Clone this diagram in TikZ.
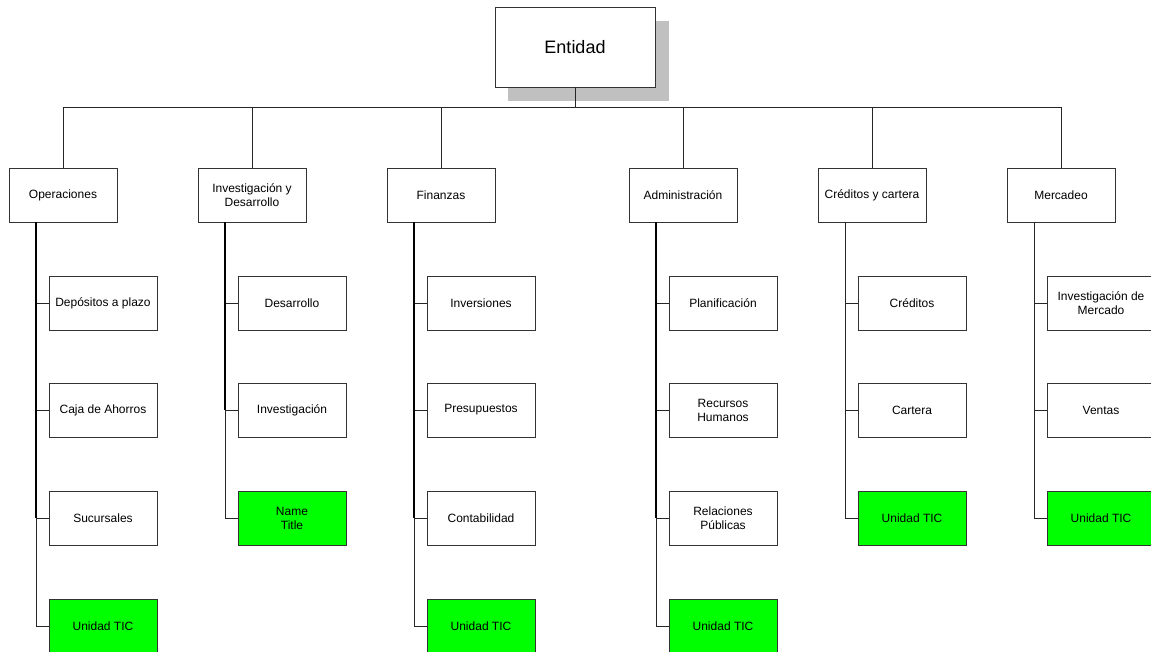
\documentclass[tikz,border=0pt]{standalone}
\usepackage{fontspec}
\setmainfont{Liberation Sans}
\definecolor{tic}{HTML}{00FF00}
\definecolor{shadowgray}{HTML}{C0C0C0}
\definecolor{edge}{HTML}{333333}
\begin{document}
\begin{tikzpicture}[x=1pt,y=-1pt,
  unit/.style={draw=edge,line width=0.8pt,fill=white,minimum width=108pt,minimum height=54pt,
    inner sep=2pt,align=center,font=\fontsize{12}{14}\selectfont},
  ticunit/.style={unit,fill=tic},
  link/.style={draw=black!85,line width=0.8pt},
  spine/.style={draw=black,line width=1.6pt}]
\useasboundingbox (0,0) rectangle (1151,651);
\clip (0,0) rectangle (1151,651);

% top box with drop shadow
\fill[shadowgray] (508,21) rectangle (669,101);
\node[unit,minimum width=160pt,minimum height=80pt,font=\fontsize{18}{20}\selectfont] (ent) at (575,47) {Entidad};

% departments
\node[unit] (ops) at (63,195) {Operaciones};
\node[unit] (ind) at (252,195) {Investigación y\\Desarrollo};
\node[unit] (fin) at (441,195) {Finanzas};
\node[unit] (adm) at (683,195) {Administración};
\node[unit] (cre) at (872,195) {Créditos y cartera};
\node[unit] (mer) at (1061,195) {Mercadeo};

\foreach \d in {ops,ind,fin,adm,cre,mer}
  \draw[link] (ent.south) -- ++(0,20) -| (\d.north);

% Operaciones
\node[unit] (ops1) at (103,303) {Depósitos a plazo};
\node[unit] (ops2) at (103,410) {Caja de Ahorros};
\node[unit] (ops3) at (103,518) {Sucursales};
\node[ticunit] (ops4) at (103,626) {Unidad TIC};
% Investigación y Desarrollo
\node[unit] (ind1) at (292,303) {Desarrollo};
\node[unit] (ind2) at (292,410) {Investigación};
\node[ticunit] (ind3) at (292,518) {Name\\Title};
% Finanzas
\node[unit] (fin1) at (481,303) {Inversiones};
\node[unit] (fin2) at (481,410) {Presupuestos};
\node[unit] (fin3) at (481,518) {Contabilidad};
\node[ticunit] (fin4) at (481,626) {Unidad TIC};
% Administración
\node[unit] (adm1) at (723,303) {Planificación};
\node[unit] (adm2) at (723,410) {Recursos\\Humanos};
\node[unit] (adm3) at (723,518) {Relaciones\\Públicas};
\node[ticunit] (adm4) at (723,626) {Unidad TIC};
% Créditos y cartera
\node[unit] (cre1) at (912,303) {Créditos};
\node[unit] (cre2) at (912,410) {Cartera};
\node[ticunit] (cre3) at (912,518) {Unidad TIC};
% Mercadeo
\node[unit] (mer1) at (1101,303) {Investigación de\\Mercado};
\node[unit] (mer2) at (1101,410) {Ventas};
\node[ticunit] (mer3) at (1101,518) {Unidad TIC};

% trunk coordinates below each department
\foreach \d in {ops,ind,fin,adm,cre,mer}
  \coordinate (\d T) at ([xshift=-27pt]\d.south);

% side connectors
\foreach \d/\kids in {ops/{1,2,3,4},ind/{1,2,3},fin/{1,2,3,4},adm/{1,2,3,4},cre/{1,2,3},mer/{1,2,3}}
  \foreach \k in \kids
    \draw[link] (\d T) |- (\d\k.west);

% heavier trunk down to the last regular unit
\draw[spine] (opsT) -- (opsT|-ops3.west);
\draw[spine] (indT) -- (indT|-ind2.west);
\draw[spine] (finT) -- (finT|-fin3.west);
\draw[spine] (admT) -- (admT|-adm3.west);
\end{tikzpicture}
\end{document}
